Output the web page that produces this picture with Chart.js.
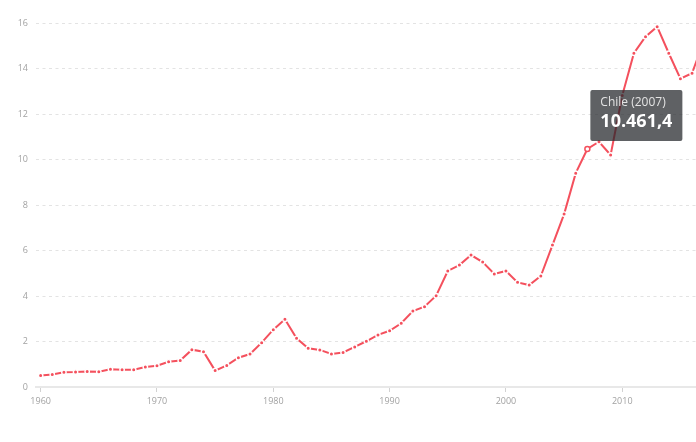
<!DOCTYPE html>
<html>
<head>
<meta charset="utf-8">
<style>
  html, body { margin: 0; padding: 0; background: #ffffff; overflow: hidden; }
  #wrap { position: relative; width: 696px; height: 442px; }
</style>
</head>
<body>
<div id="wrap"><canvas id="c" width="696" height="442"></canvas></div>
<script src="https://cdn.jsdelivr.net/npm/chart.js@4/dist/chart.umd.min.js"></script>
<script>
// ---- data ----
const seriesName = 'Chile';
const years = [
  1960,1961,1962,1963,1964,1965,1966,1967,1968,1969,
  1970,1971,1972,1973,1974,1975,1976,1977,1978,1979,
  1980,1981,1982,1983,1984,1985,1986,1987,1988,1989,
  1990,1991,1992,1993,1994,1995,1996,1997,1998,1999,
  2000,2001,2002,2003,2004,2005,2006,2007,2008,2009,
  2010,2011,2012,2013,2014,2015,2016,2017
];
const gdpPerCapita = [
  505, 550, 646, 658, 685, 667, 778, 762, 760, 880,
  938, 1108, 1168, 1640, 1552, 720, 950, 1285, 1450, 1950,
  2520, 2980, 2140, 1700, 1630, 1450, 1520, 1760, 2010, 2290,
  2470, 2800, 3340, 3530, 4010, 5100, 5360, 5800, 5490, 4970,
  5100, 4600, 4480, 4880, 6240, 7600, 9400, 10461.4, 10780, 10200,
  12810, 14670, 15400, 15840, 14670, 13550, 13790, 15200
];
const xTickYears = [1960, 1970, 1980, 1990, 2000, 2010];
const yTickValues = [0, 2000, 4000, 6000, 8000, 10000, 12000, 14000, 16000];
const yTickLabels = ['0', '2', '4', '6', '8', '10', '12', '14', '16'];
const highlightYear = 2007;

// ---- helpers ----
function formatDE(v) {
  const parts = v.toFixed(1).split('.');
  const intPart = parts[0].replace(/\B(?=(\d{3})+(?!\d))/g, '.');
  return intPart + ',' + parts[1];
}

Chart.defaults.font.family = "'Open Sans', sans-serif";

Chart.Tooltip.positioners.pinned = function (items) {
  if (!items.length) return false;
  const el = items[0].element;
  return { x: el.x + 5, y: el.y - 8 };
};

const lineColor = '#f4505d';
const labelColor = '#a2a2a2';

const chart = new Chart(document.getElementById('c'), {
  type: 'line',
  data: {
    datasets: [{
      label: seriesName,
      data: years.map((y, i) => ({ x: y, y: gdpPerCapita[i] })),
      borderColor: lineColor,
      borderWidth: 2,
      tension: 0,
      fill: false,
      pointRadius: 2.2,
      pointBackgroundColor: lineColor,
      pointBorderColor: '#ffffff',
      pointBorderWidth: 1.4,
      pointHoverRadius: 2.5,
      pointHoverBackgroundColor: '#ffffff',
      pointHoverBorderColor: lineColor,
      pointHoverBorderWidth: 1.5
    }]
  },
  options: {
    responsive: false,
    animation: false,
    events: [],
    layout: { autoPadding: false, padding: { top: 23, right: 0, bottom: 0, left: 0 } },
    plugins: {
      legend: { display: false },
      title: { display: false },
      tooltip: {
        enabled: true,
        position: 'pinned',
        xAlign: 'left',
        yAlign: 'bottom',
        backgroundColor: 'rgba(35,38,43,0.73)',
        titleColor: '#e4e4e4',
        bodyColor: '#ffffff',
        titleFont: { size: 12, weight: 'normal' },
        bodyFont: { size: 18, weight: 'bold' },
        padding: { top: 5, bottom: 8, left: 10, right: 10 },
        titleMarginBottom: 2,
        caretSize: 0,
        caretPadding: 0,
        cornerRadius: 2,
        displayColors: false,
        callbacks: {
          title: items => seriesName + ' (' + items[0].raw.x + ')',
          label: item => formatDE(item.raw.y)
        }
      }
    },
    scales: {
      x: {
        type: 'linear',
        min: 1959.6,
        max: 2016.34,
        afterBuildTicks: s => { s.ticks = xTickYears.map(v => ({ value: v })); },
        afterFit: s => { s.height = 55; s.paddingLeft = 0; s.paddingRight = 0; },
        ticks: {
          callback: v => String(v),
          color: labelColor,
          font: { size: 9 },
          padding: 4,
          maxRotation: 0,
          autoSkip: false
        },
        grid: {
          display: true,
          drawOnChartArea: false,
          drawTicks: true,
          tickLength: 5,
          tickColor: '#d2d2d2',
          tickWidth: 1
        },
        border: { display: true, color: '#e8e8e8', width: 2 }
      },
      y: {
        type: 'linear',
        min: 0,
        max: 16000,
        afterBuildTicks: s => { s.ticks = yTickValues.map(v => ({ value: v })); },
        afterFit: s => { s.width = 36; s.paddingTop = 0; s.paddingBottom = 0; },
        ticks: {
          callback: v => yTickLabels[yTickValues.indexOf(v)],
          color: labelColor,
          font: { size: 9 },
          padding: 8,
          autoSkip: false
        },
        grid: {
          drawTicks: false,
          color: ctx => (ctx.tick && ctx.tick.value === 0) ? 'rgba(0,0,0,0)' : '#e3e3e3',
          lineWidth: 1
        },
        border: { display: false, dash: [3, 3.5] }
      }
    }
  }
});

const idx = years.indexOf(highlightYear);
chart.setActiveElements([{ datasetIndex: 0, index: idx }]);
chart.tooltip.setActiveElements([{ datasetIndex: 0, index: idx }], { x: 0, y: 0 });
chart.update();
</script>
</body>
</html>
